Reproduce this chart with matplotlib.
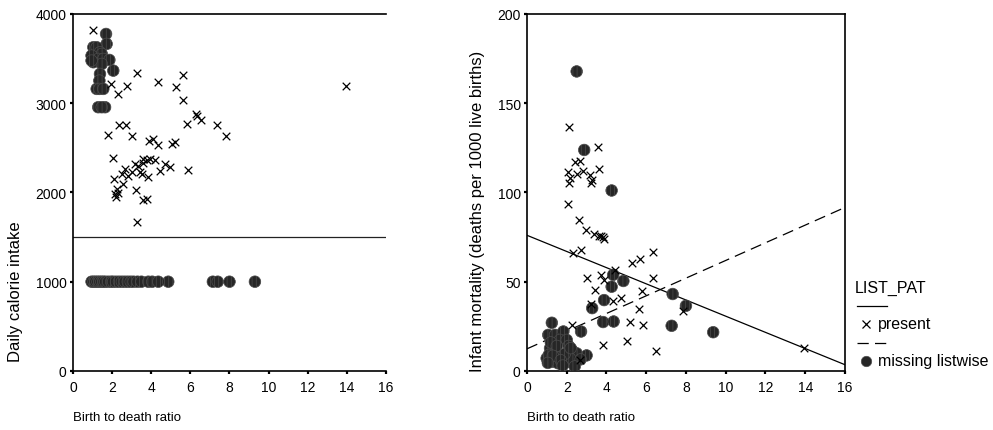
import matplotlib.pyplot as plt
from matplotlib.lines import Line2D

plt.rcParams['font.family'] = ['Liberation Sans', 'DejaVu Sans']
plt.rcParams['hatch.linewidth'] = 0.5

# left panel: birth/death ratio vs daily calorie intake
cal_present_x = [1.04, 3.26, 1.94, 2.74, 2.32, 4.36, 5.64, 5.27, 5.64, 6.27, 6.33, 6.54,
                 5.81, 7.38, 7.8, 13.96, 1.77, 2.37, 2.71, 3.03, 3.9, 4.07, 4.36, 5.04,
                 5.21, 2.06, 3.6, 3.77, 3.94, 4.19, 3.17, 3.34, 3.6, 4.7, 4.96, 4.45,
                 5.86, 2.66, 2.49, 2.83, 3.0, 3.43, 3.51, 3.85, 2.11, 2.23, 2.15, 2.2,
                 2.32, 2.57, 3.22, 3.6, 3.8, 3.26]
cal_present_y = [3824, 3339, 3216, 3190, 3104, 3235, 3320, 3179, 3040, 2880, 2860, 2816,
                 2767, 2756, 2637, 3190, 2648, 2756, 2756, 2637, 2580, 2600, 2532, 2543,
                 2569, 2383, 2380, 2367, 2375, 2364, 2319, 2300, 2330, 2319, 2282, 2244,
                 2255, 2263, 2207, 2188, 2226, 2226, 2207, 2170, 2151, 2039, 1983, 1946,
                 1994, 2095, 2031, 1919, 1927, 1673]
cal_missing_x = [1.69, 1.72, 1.04, 1.21, 1.38, 1.47, 0.95, 1.29, 1.55, 1.86, 1.04, 1.47,
                 0.95, 2.06, 1.38, 1.35, 1.21, 1.35, 1.55, 1.29, 1.64, 1.47,
                 0.95, 1.05, 1.15, 1.25, 1.35, 1.45, 1.55, 1.65, 1.8, 1.95, 2.05, 2.2,
                 2.35, 2.5, 2.65, 2.8, 2.95, 3.1, 3.3, 3.5, 3.85, 4.05, 4.36, 4.87,
                 7.15, 7.4, 8.0, 9.3]
cal_missing_y = [3776, 3664, 3627, 3627, 3571, 3552, 3533, 3496, 3496, 3485, 3459, 3440,
                 3477, 3365, 3328, 3253, 3160, 3160, 3160, 2955, 2955, 2955,
                 1000, 1000, 1000, 1000, 1000, 1000, 1000, 1000, 1000, 1000, 1000, 1000,
                 1000, 1000, 1000, 1000, 1000, 1000, 1000, 1000, 1000, 1000, 1000, 1000,
                 1000, 1000, 1000, 1000]
cal_ref_line = 1500

# right panel: birth/death ratio vs infant mortality
inf_present_x = [2.13, 3.59, 2.08, 2.16, 2.12, 2.42, 2.67, 2.5, 2.83, 3.15, 3.26, 3.22,
                 3.6, 2.06, 2.6, 2.95, 3.38, 3.6, 3.7, 3.8, 3.86, 2.34, 2.7, 3.0, 3.72,
                 3.88, 4.41, 5.27, 5.69, 6.33, 6.33, 5.8, 3.43, 3.22, 4.34, 4.72, 5.64,
                 5.2, 5.86, 2.25, 5.03, 3.85, 2.67, 6.5, 7.83, 13.95]
inf_present_y = [136.9, 125.7, 111.6, 108.3, 105.1, 117.0, 117.6, 110.1, 112.0, 109.6,
                 106.9, 105.1, 112.9, 93.8, 84.4, 78.8, 76.6, 75.6, 75.6, 74.9, 74.2,
                 66.1, 68.0, 51.9, 53.9, 50.8, 56.7, 60.6, 62.7, 66.7, 52.1, 45.0, 45.5,
                 37.5, 39.4, 41.1, 34.7, 27.7, 25.8, 25.8, 16.7, 14.6, 5.9, 11.2, 33.7,
                 12.7]
inf_missing_x = [2.5, 2.88, 4.26, 4.34, 4.26, 4.85, 3.88, 3.28, 3.83, 4.36, 2.72, 1.25,
                 7.33, 8.0, 7.28, 9.37, 1.07, 1.41, 1.83, 1.66, 2.0, 3.0, 1.16, 1.41,
                 1.66, 2.25, 2.33, 2.5, 0.99, 1.32, 1.57, 2.0, 2.33, 2.16, 1.2, 1.5, 2.1,
                 1.1, 1.3, 1.9, 2.7, 1.7, 1.05, 2.4, 1.8, 2.2]
inf_missing_y = [167.8, 123.8, 101.1, 53.9, 47.2, 50.4, 39.7, 35.2, 27.4, 27.7, 22.1, 27.0,
                 43.1, 36.5, 25.3, 21.7, 20.2, 20.2, 22.1, 17.4, 17.4, 8.7, 12.7, 10.8,
                 8.0, 11.8, 8.0, 9.9, 7.1, 5.2, 4.3, 5.2, 4.3, 7.1, 16.0, 14.0, 14.0,
                 9.0, 8.5, 9.5, 6.5, 6.0, 4.5, 2.5, 3.0, 12.8]
fit_present_x = [0, 16]
fit_present_y = [76.0, 3.5]
fit_missing_x = [0, 16]
fit_missing_y = [12.4, 91.6]

x_ticks = [0, 2, 4, 6, 8, 10, 12, 14, 16]

fig = plt.figure(figsize=(9.93, 4.31), dpi=100)
ax1 = fig.add_axes([0.0735, 0.137, 0.3152, 0.8283])
ax2 = fig.add_axes([0.5307, 0.137, 0.3202, 0.8283])

circ = dict(marker='o', s=70, facecolor='#262626', edgecolor='#4d4d4d',
            hatch='||||', linewidths=0.5, zorder=3)
cross = dict(marker='x', s=30, color='black', linewidths=0.9, zorder=4)

ax1.axhline(cal_ref_line, color='#222222', lw=0.9, zorder=2)
ax1.scatter(cal_missing_x, cal_missing_y, **circ)
ax1.scatter(cal_present_x, cal_present_y, **cross)
ax1.set_ylim(0, 4000)
ax1.set_yticks([0, 1000, 2000, 3000, 4000])
ax1.spines['right'].set_visible(False)
ax1.set_ylabel('Daily calorie intake', loc='bottom', fontsize=12)
ax1.yaxis.set_label_coords(-0.16, 0.028)

ax2.plot(fit_present_x, fit_present_y, color='black', lw=0.9, zorder=2)
ax2.plot(fit_missing_x, fit_missing_y, color='black', lw=0.9, dashes=(9, 5), zorder=2)
ax2.scatter(inf_missing_x, inf_missing_y, **circ)
ax2.scatter(inf_present_x, inf_present_y, **cross)
ax2.set_ylim(0, 200)
ax2.set_yticks([0, 50, 100, 150, 200])
ax2.set_ylabel('Infant mortality (deaths per 1000 live births)', loc='bottom',
               fontsize=12)
ax2.yaxis.set_label_coords(-0.132, 0.0)

for ax in (ax1, ax2):
    ax.set_xlim(0, 16)
    ax.set_xticks(x_ticks)
    ax.set_xlabel('Birth to death ratio', loc='left', fontsize=9.5)
    ax.xaxis.set_label_coords(0, -0.112)
    for s in ax.spines.values():
        s.set_linewidth(1.2)
    ax.tick_params(direction='out', length=2.5, width=1.6, labelsize=10, pad=2)
    ax.tick_params(axis='x', pad=4)

# legend drawn in figure coordinates
W, H = 993.0, 431.0
fig.text(855 / W, 1 - 288 / H, 'LIST_PAT', fontsize=11.5, va='center', ha='left')
fig.add_artist(Line2D([857 / W, 887 / W], [1 - 307 / H] * 2, color='black', lw=0.9))
fig.add_artist(Line2D([866 / W], [1 - 325 / H], marker='x', ms=6, mew=0.9,
                      color='black', linestyle='none'))
fig.text(878 / W, 1 - 325 / H, 'present', fontsize=11.5, va='center', ha='left')
fig.add_artist(Line2D([857 / W, 887 / W], [1 - 344 / H] * 2, color='black', lw=0.9,
                      dashes=(9, 5)))
fig.add_artist(Line2D([866 / W], [1 - 362 / H], marker='o', ms=7.5, mew=0.5,
                      markerfacecolor='#262626', markeredgecolor='#4d4d4d',
                      linestyle='none'))
fig.text(878 / W, 1 - 362 / H, 'missing listwise', fontsize=11.5, va='center', ha='left')

fig.savefig('out.png', dpi=100)
